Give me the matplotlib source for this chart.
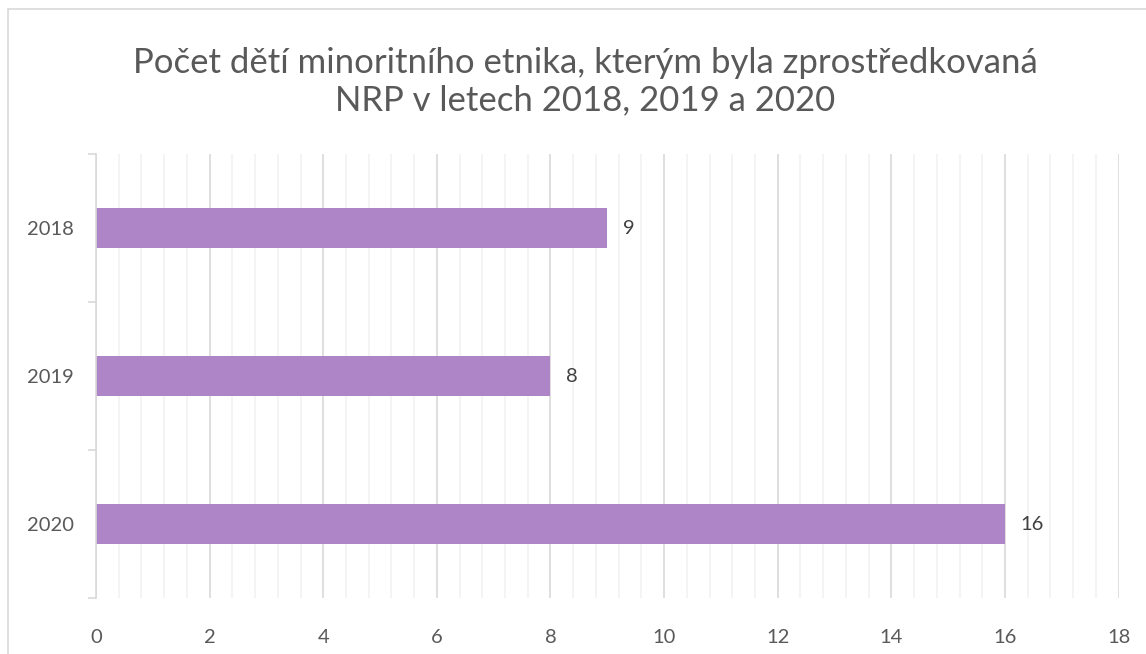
"""
Horizontal bar chart: children of minority ethnicity placed in NRP, 2018-2020.
"""

import matplotlib.pyplot as plt
from matplotlib.patches import Rectangle
from matplotlib.ticker import MultipleLocator

YEARS = ["2018", "2019", "2020"]
COUNTS = [9, 8, 16]
X_TICKS = [0, 2, 4, 6, 8, 10, 12, 14, 16, 18]

TITLE = "Počet dětí minoritního etnika, kterým byla zprostředkovaná\nNRP v letech 2018, 2019 a 2020"
BAR_COLOR = "#AE85C6"
TEXT_COLOR = "#595959"

plt.rcParams["font.family"] = ["Lato", "DejaVu Sans"]

fig = plt.figure(figsize=(11.46, 6.54), dpi=100)
W, H = 1146, 654

# outer chart frame
fig.patches.append(Rectangle((8 / W, -0.05), 1.2, 1 - 9 / H + 0.05,
                             transform=fig.transFigure, fill=False,
                             edgecolor="#D9D9D9", linewidth=1.2))

ax = fig.add_axes([96 / W, 1 - 598 / H, (1118.6 - 96) / W, (598 - 154) / H])

pos = list(range(len(YEARS)))
ax.barh(pos, COUNTS, height=0.27, color=BAR_COLOR, zorder=3)
for p, v in zip(pos, COUNTS):
    ax.text(v + 0.27, p, str(v), va="center", ha="left",
            fontsize=14.5, color="#404040")

ax.set_ylim(len(YEARS) - 0.5, -0.5)
ax.set_yticks(pos)
ax.set_yticklabels(YEARS)
ax.set_yticks([-0.5, 0.5, 1.5, 2.5], minor=True)
ax.tick_params(axis="y", which="major", length=0, pad=16,
               labelsize=14.5, labelcolor=TEXT_COLOR)
ax.tick_params(axis="y", which="minor", length=6, color="#D9D9D9", width=1.2)

ax.set_xlim(0, 18)
ax.set_xticks(X_TICKS)
ax.xaxis.set_minor_locator(MultipleLocator(0.4))
ax.tick_params(axis="x", which="both", length=0, pad=22,
               labelsize=14.5, labelcolor=TEXT_COLOR)
ax.grid(axis="x", which="major", color="#D9D9D9", linewidth=1.2, zorder=0)
ax.grid(axis="x", which="minor", color="#F2F2F2", linewidth=1.2, zorder=0)

for side in ("top", "right", "bottom"):
    ax.spines[side].set_visible(False)
ax.spines["left"].set_color("#D9D9D9")
ax.spines["left"].set_linewidth(1.2)
ax.spines["left"].set_zorder(4)

fig.text(585 / W, 1 - 82 / H, TITLE, ha="center", va="center",
         fontsize=25, color=TEXT_COLOR, linespacing=1.2)

fig.savefig("out.png", dpi=100)
